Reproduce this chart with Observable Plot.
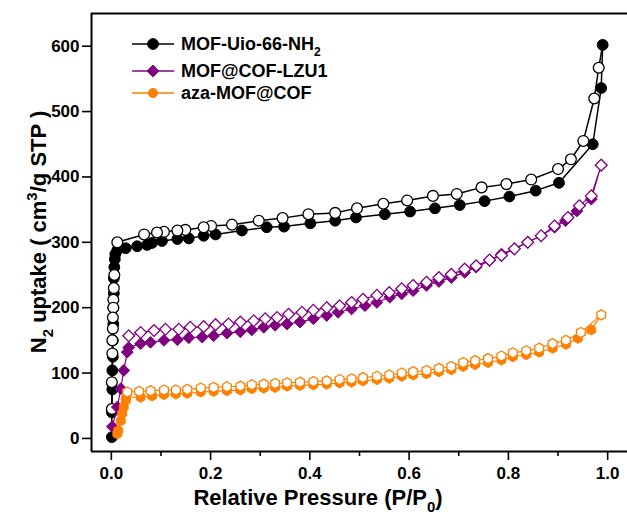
<!DOCTYPE html>
<html><head><meta charset="utf-8">
<script src="https://cdn.jsdelivr.net/npm/d3@7"></script>
<script src="https://cdn.jsdelivr.net/npm/@observablehq/plot@0.6"></script>
<style>
html,body{margin:0;padding:0;background:#fff;}
#wrap{position:relative;width:627px;height:516px;overflow:hidden;background:#fff;}
</style></head><body><div id="wrap"></div>
<script>
// ---- data: [P/P0, uptake] ----
const mofAds = [[0.001,2],[0.001,40],[0.002,75],[0.002,104],[0.003,125],[0.003,150],[0.004,175],[0.004,200],[0.005,222],[0.005,245],[0.006,262],[0.007,274],[0.008,282],[0.012,288],
 [0.029,291],[0.052,294],[0.072,296],[0.082,299],[0.102,302],[0.133,305],[0.156,306],[0.186,310],[0.21,312],[0.263,318],[0.313,323],[0.348,324],[0.401,329],[0.451,333],[0.493,338],[0.551,343],[0.602,347],[0.652,352],[0.702,357],[0.752,363],[0.802,370],[0.855,379],[0.902,391],[0.970,450],[0.987,536],[0.990,602]];
const mofDes = [[0.982,567],[0.973,520],[0.951,455],[0.926,427],[0.900,412],[0.846,396],[0.796,389],[0.746,384],[0.696,374],[0.648,371],[0.596,364],[0.548,359],[0.495,352],[0.451,345],[0.397,343],[0.345,337],[0.297,333],[0.243,327],[0.201,325],[0.186,323],[0.149,319],[0.133,318],[0.106,316],[0.092,315],[0.066,312],
 [0.012,300],[0.006,250],[0.005,230],[0.004,212],[0.004,200],[0.003,185],[0.003,168],[0.002,150],[0.002,130],[0.001,86],[0.001,45]];
const lzuAds = [[0.002,18],[0.012,48],[0.019,76],[0.025,104],[0.032,132],[0.035,139],[0.059,145],[0.079,147],[0.106,150],[0.133,151],[0.156,154],[0.183,155],[0.206,157],[0.233,161],[0.26,163],[0.283,166],[0.307,170],[0.33,173],[0.354,175],[0.38,178],[0.407,183],[0.434,188],[0.457,193],[0.484,198],[0.511,203],[0.535,208],[0.561,216],[0.585,221],[0.608,226],[0.635,234],[0.66,240],[0.685,246],[0.712,254],[0.735,262],[0.762,272],[0.786,282],[0.812,290],[0.839,300],[0.866,310],[0.893,323],[0.915,333],[0.938,348],[0.967,366]];
const lzuDes = [[0.987,418],[0.967,371],[0.943,356],[0.92,338],[0.893,325],[0.866,310],[0.839,300],[0.812,290],[0.786,280],[0.762,273],[0.735,264],[0.712,259],[0.685,251],[0.66,246],[0.635,239],[0.608,234],[0.585,229],[0.56,223],[0.535,219],[0.507,213],[0.484,208],[0.46,203],[0.434,200],[0.407,196],[0.384,193],[0.357,190],[0.334,185],[0.31,183],[0.287,180],[0.26,178],[0.236,175],[0.21,174],[0.186,171],[0.159,170],[0.136,167],[0.109,167],[0.086,165],[0.059,162],[0.035,157]];
const azaAds = [[0.012,7],[0.014,12],[0.019,27],[0.022,38],[0.025,48],[0.029,58],[0.03,63],[0.059,63],[0.082,65],[0.106,67],[0.13,68],[0.153,69],[0.18,71],[0.206,72],[0.233,73],[0.26,74],[0.283,76],[0.307,77],[0.33,78],[0.354,80],[0.38,81],[0.407,82],[0.434,83],[0.46,85],[0.484,86],[0.507,88],[0.535,90],[0.56,92],[0.585,95],[0.608,97],[0.635,99],[0.66,102],[0.685,105],[0.709,110],[0.733,113],[0.759,116],[0.786,120],[0.809,125],[0.836,128],[0.862,132],[0.889,138],[0.916,144],[0.94,153],[0.967,166]];
const azaDes = [[0.987,189],[0.946,162],[0.916,150],[0.889,145],[0.862,138],[0.836,134],[0.809,131],[0.786,126],[0.759,122],[0.733,119],[0.709,116],[0.685,110],[0.66,107],[0.635,104],[0.608,102],[0.585,100],[0.56,97],[0.535,95],[0.507,93],[0.484,91],[0.46,90],[0.434,88],[0.407,87],[0.38,86],[0.354,85],[0.33,84],[0.307,83],[0.283,82],[0.26,80],[0.233,79],[0.206,78],[0.18,77],[0.153,75],[0.13,74],[0.106,74],[0.079,73],[0.056,72],[0.032,71]];

const seriesNames = ["MOF-Uio-66-NH", "MOF@COF-LZU1", "aza-MOF@COF"];
const seriesSub = ["2", "", ""];
const seriesColors = ["#000000", "#800080", "#ff8000"];
const xTicks = [0, 0.2, 0.4, 0.6, 0.8, 1.0];
const xMinorTicks = [0.1, 0.3, 0.5, 0.7, 0.9];
const yTicks = [0, 100, 200, 300, 400, 500, 600];
const xDomain = [-0.04, 1.04];
const yDomain = [-20, 650];

const FONT = "'Liberation Sans', Arial, Helvetica, sans-serif";

const hexagon = {draw(ctx, size) {
  const R = Math.sqrt(2 * size / (3 * Math.sqrt(3)));
  for (let i = 0; i < 6; i++) {
    const a = Math.PI / 3 * i - Math.PI / 2;
    const x = R * Math.cos(a), y = R * Math.sin(a);
    if (i) ctx.lineTo(x, y); else ctx.moveTo(x, y);
  }
  ctx.closePath();
}};

const series = [
  {ads: mofAds, des: mofDes, color: seriesColors[0], symbol: "circle", legendSymbol: d3.symbolCircle, r: 5.4, lw: 1.5},
  {ads: lzuAds, des: lzuDes, color: seriesColors[1], symbol: "diamond2", legendSymbol: d3.symbolDiamond2, r: 5.3, lw: 1.2},
  {ads: azaAds, des: azaDes, color: seriesColors[2], symbol: hexagon, legendSymbol: d3.symbolCircle, r: 4.6, lw: 1.2}
];

const X = d => d[0], Y = d => d[1];
const marks = [];
for (const s of series) {
  const desLine = [s.ads[s.ads.length - 1], ...s.des];
  marks.push(Plot.line(s.ads, {x: X, y: Y, stroke: s.color, strokeWidth: s.lw}));
  marks.push(Plot.line(desLine, {x: X, y: Y, stroke: s.color, strokeWidth: s.lw}));
  marks.push(Plot.dot(s.ads, {x: X, y: Y, symbol: s.symbol, r: s.r, fill: s.color, stroke: s.color, strokeWidth: 1}));
  marks.push(Plot.dot(s.des, {x: X, y: Y, symbol: s.symbol, r: s.r, fill: "white", stroke: s.color, strokeWidth: 1.3}));
}

const chart = Plot.plot({
  width: 627, height: 516,
  marginLeft: 91, marginRight: 0, marginTop: 13, marginBottom: 65,
  style: {fontFamily: FONT, fontSize: "17px", fontWeight: "bold", background: "white", color: "black"},
  x: {domain: xDomain},
  y: {domain: yDomain},
  marks: [
    Plot.axisY({ticks: yTicks, tickSize: 9, tickPadding: 3, strokeWidth: 1.6, fontSize: 17, fontWeight: "bold", label: null}),
    Plot.axisX({ticks: xTicks, tickSize: 9, tickPadding: 6, strokeWidth: 1.6, tickFormat: d3.format(".1f"), fontSize: 17, fontWeight: "bold", label: null}),
    Plot.axisX({ticks: xMinorTicks, tickSize: 5, strokeWidth: 1.6, text: null, label: null}),
    Plot.ruleX([xDomain[0]], {strokeWidth: 2}),
    Plot.ruleY(yDomain, {strokeWidth: 2}),
    ...marks
  ]
});
document.getElementById("wrap").appendChild(chart);

const svg = d3.select(chart);
// y title
const yt = svg.append("text")
  .attr("transform", "translate(46,232) rotate(-90)")
  .attr("text-anchor", "middle")
  .style("font-family", FONT).style("font-size", "22px").style("font-weight", "bold").attr("fill", "black");
yt.append("tspan").text("N");
yt.append("tspan").attr("dy", 7).style("font-size", "15px").text("2");
yt.append("tspan").attr("dy", -7).text(" uptake ( cm");
yt.append("tspan").attr("dy", -9).style("font-size", "15px").text("3");
yt.append("tspan").attr("dy", 9).text("/g STP )");
// x title
const xt = svg.append("text")
  .attr("x", 318).attr("y", 505)
  .attr("text-anchor", "middle")
  .style("font-family", FONT).style("font-size", "22px").style("font-weight", "bold").attr("fill", "black");
xt.append("tspan").text("Relative Pressure (P/P");
xt.append("tspan").attr("dy", 7).style("font-size", "15px").text("0");
xt.append("tspan").attr("dy", -7).text(")");

// legend
const legendRows = [44, 71, 93];
const lg = svg.append("g");
series.forEach((s, i) => {
  const g = lg.append("g").attr("transform", `translate(0,${legendRows[i]})`);
  g.append("line").attr("x1", 132).attr("x2", 174).attr("stroke", s.color).attr("stroke-width", 1.6);
  g.append("path").attr("transform", "translate(153,0)")
    .attr("d", d3.symbol(s.legendSymbol, Math.PI * s.r * s.r)()).attr("fill", s.color).attr("stroke", s.color);
  const t = g.append("text").attr("x", 181).attr("dy", "0.36em").attr("text-anchor", "start")
    .style("font-family", FONT).style("font-size", "18px").style("font-weight", "bold").attr("fill", "black");
  t.append("tspan").text(seriesNames[i]);
  if (seriesSub[i]) t.append("tspan").attr("dy", 6).style("font-size", "12px").text(seriesSub[i]);
});
</script></body></html>
